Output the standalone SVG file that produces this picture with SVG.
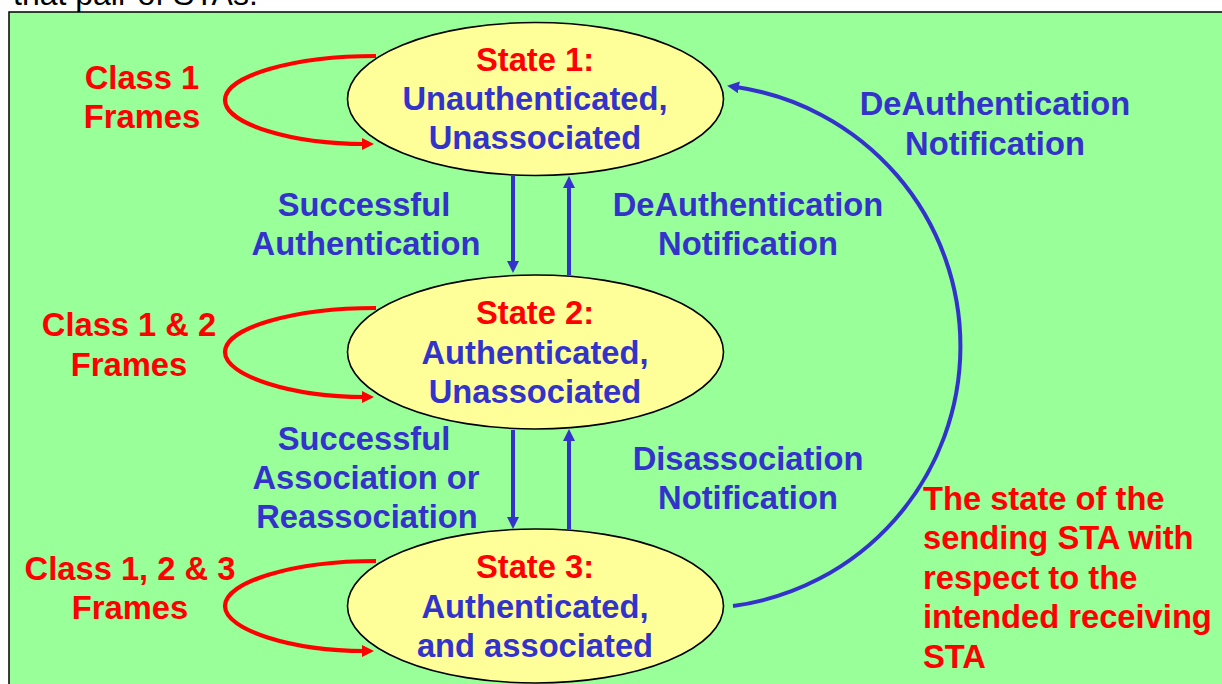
<svg xmlns="http://www.w3.org/2000/svg" width="1222" height="684" viewBox="0 0 1222 684">
  <style>
    text { font-family: "Liberation Sans", Arial, sans-serif; font-weight: bold; font-size: 32.7px; }
    .red { fill: #FF0000; }
    .blue { fill: #3333CC; }
    .mid { text-anchor: middle; }
    .state { fill: #FFFF99; stroke: #000000; stroke-width: 1.6; }
    .loop { fill: none; stroke: #FF0000; stroke-width: 4.2; marker-end: url(#arrowRed); }
    .link { fill: none; stroke: #3333CC; stroke-width: 4; marker-end: url(#arrowBlue); }
  </style>
  <defs>
    <marker id="arrowRed" viewBox="0 0 12 12" markerWidth="12" markerHeight="12" refX="3" refY="6" orient="auto" markerUnits="userSpaceOnUse">
      <path d="M0,0 L12,6 L0,12 z" fill="#FF0000"/>
    </marker>
    <marker id="arrowBlue" viewBox="0 0 12 12" markerWidth="12" markerHeight="12" refX="3" refY="6" orient="auto" markerUnits="userSpaceOnUse">
      <path d="M0,0 L12,6 L0,12 z" fill="#3333CC"/>
    </marker>
  </defs>

  <!-- page text above the panel -->
  <text x="13" y="5" style="font-weight:normal; font-size:32px" fill="#000000">that pair of STAs.</text>

  <!-- panel -->
  <rect x="9" y="12" width="1230" height="690" fill="#99FF99" stroke="#000000" stroke-width="1.5"/>

  <!-- connectors -->
  <g id="connectors">
    <!-- self loops -->
    <path class="loop" d="M376,56 C293,56 225,76 225,100 C225,124 292,144 365,144"/>
    <path class="loop" d="M376,308 C293,308 225,328 225,352 C225,376 292,397 365,397"/>
    <path class="loop" d="M376,561 C293,561 225,582 225,606 C225,630 292,651 365,651"/>
    <!-- state 1 <-> state 2 -->
    <path class="link" d="M513,176 L513,264"/>
    <path class="link" d="M569,275 L569,185"/>
    <!-- state 2 <-> state 3 -->
    <path class="link" d="M513,430 L513,520"/>
    <path class="link" d="M569,529 L569,438"/>
    <!-- state 3 -> state 1 -->
    <path class="link" d="M733,606 A262,262 0 0 0 736,87"/>
  </g>

  <!-- transition labels -->
  <g id="label-class1">
    <text class="red mid" x="142" y="89">Class 1</text>
    <text class="red mid" x="142" y="128">Frames</text>
  </g>
  <g id="label-class12">
    <text class="red mid" x="129" y="336">Class 1 &amp; 2</text>
    <text class="red mid" x="129" y="376">Frames</text>
  </g>
  <g id="label-class123">
    <text class="red mid" x="130" y="580">Class 1, 2 &amp; 3</text>
    <text class="red mid" x="130" y="619">Frames</text>
  </g>
  <g id="label-auth">
    <text class="blue mid" x="364" y="216">Successful</text>
    <text class="blue mid" x="366" y="255">Authentication</text>
  </g>
  <g id="label-deauth">
    <text class="blue mid" x="748" y="216">DeAuthentication</text>
    <text class="blue mid" x="748" y="255">Notification</text>
  </g>
  <g id="label-assoc">
    <text class="blue mid" x="364" y="450">Successful</text>
    <text class="blue mid" x="366" y="489">Association or</text>
    <text class="blue mid" x="367" y="528">Reassociation</text>
  </g>
  <g id="label-disassoc">
    <text class="blue mid" x="748" y="470">Disassociation</text>
    <text class="blue mid" x="748" y="509">Notification</text>
  </g>
  <g id="label-deauth-outer">
    <text class="blue mid" x="995" y="115">DeAuthentication</text>
    <text class="blue mid" x="995" y="155">Notification</text>
  </g>
  <g id="note">
    <text class="red" x="923" y="510">The state of the</text>
    <text class="red" x="923" y="549">sending STA with</text>
    <text class="red" x="923" y="589">respect to the</text>
    <text class="red" x="923" y="628">intended receiving</text>
    <text class="red" x="923" y="668">STA</text>
  </g>

  <!-- states -->
  <g id="state1">
    <ellipse class="state" cx="535.5" cy="99" rx="188" ry="76.5"/>
    <text class="red mid" x="535" y="71">State 1:</text>
    <text class="blue mid" x="535" y="110">Unauthenticated,</text>
    <text class="blue mid" x="535" y="149">Unassociated</text>
  </g>
  <g id="state2">
    <ellipse class="state" cx="535.5" cy="352" rx="188" ry="77"/>
    <text class="red mid" x="535" y="324">State 2:</text>
    <text class="blue mid" x="535" y="364">Authenticated,</text>
    <text class="blue mid" x="535" y="403">Unassociated</text>
  </g>
  <g id="state3">
    <ellipse class="state" cx="535.5" cy="606" rx="188" ry="77"/>
    <text class="red mid" x="535" y="578">State 3:</text>
    <text class="blue mid" x="535" y="618">Authenticated,</text>
    <text class="blue mid" x="535" y="657">and associated</text>
  </g>
</svg>
